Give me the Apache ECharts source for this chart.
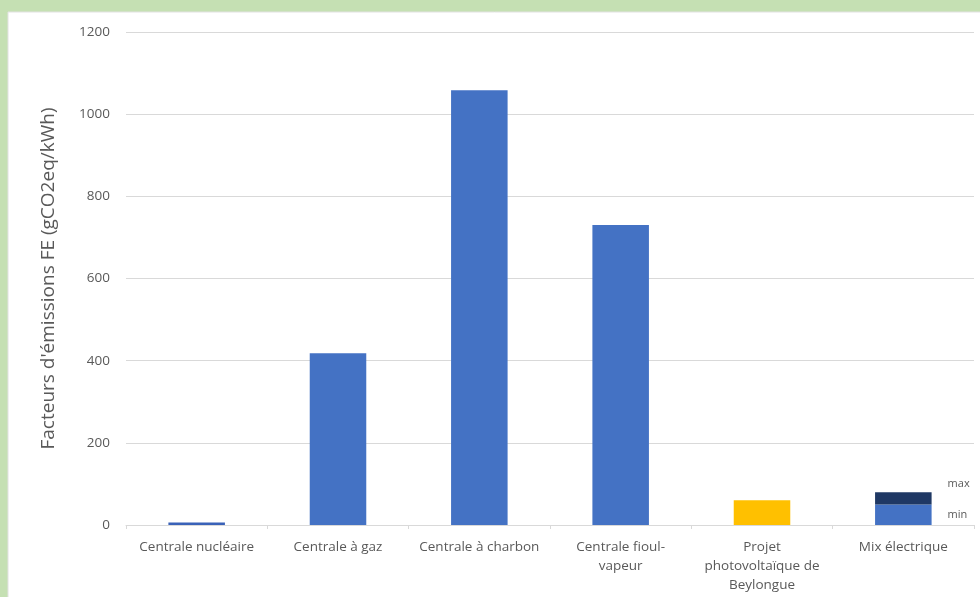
<!DOCTYPE html>
<html>
<head>
<meta charset="utf-8">
<script src="https://cdn.jsdelivr.net/npm/echarts@6/dist/echarts.min.js"></script>
<style>
  html, body { margin: 0; padding: 0; }
  #chart { width: 980px; height: 597px; }
</style>
</head>
<body>
<div id="chart"></div>
<script>
// categories and values (gCO2eq/kWh)
var categories = ['Centrale nucléaire', 'Centrale à gaz', 'Centrale à charbon', 'Centrale fioul-\nvapeur', 'Projet\nphotovoltaïque de\nBeylongue', 'Mix électrique'];
var minValues = [6, 418, 1058, 730, 60, 50];
var maxExtra = ['-', '-', '-', '-', '-', 30];
var yTicks = [0, 200, 400, 600, 800, 1000, 1200];

var barColors = ['#3a62b8', '#4472c4', '#4472c4', '#4472c4', '#ffc000', '#4472c4'];

const chart = echarts.init(document.getElementById('chart'), null, { renderer: 'canvas' });

var option = {
  backgroundColor: '#c5e0b3',
  animation: false,
  textStyle: { fontFamily: 'Open Sans' },
  graphic: [{
    type: 'rect',
    z: -10,
    shape: { x: 8, y: 12, width: 980, height: 600 },
    style: { fill: '#ffffff', stroke: '#e2e2e2', lineWidth: 1 }
  }],
  grid: { left: 126, right: 6, top: 32, bottom: 72 },
  xAxis: {
    type: 'category',
    data: categories,
    axisLine: { lineStyle: { color: '#d9d9d9' } },
    axisTick: { show: true, length: 4, lineStyle: { color: '#d9d9d9' } },
    axisLabel: { color: '#595959', fontSize: 13.5, lineHeight: 19, margin: 13, interval: 0 }
  },
  yAxis: {
    type: 'value',
    min: yTicks[0],
    max: yTicks[yTicks.length - 1],
    interval: 200,
    name: "Facteurs d'émissions FE (gCO2eq/kWh)",
    nameLocation: 'middle',
    nameGap: 68,
    nameTextStyle: { color: '#595959', fontSize: 19 },
    axisLine: { show: false },
    axisTick: { show: false },
    axisLabel: { color: '#595959', fontSize: 13.5, margin: 16, formatter: function (v) { return String(v); } },
    splitLine: { lineStyle: { color: '#d9d9d9' } }
  },
  series: [
    {
      name: 'min',
      type: 'bar',
      stack: 'fe',
      barWidth: '40%',
      data: minValues.map(function (v, i) {
        var item = { value: v, itemStyle: { color: barColors[i] } };
        if (i === minValues.length - 1) {
          item.label = { show: true, position: 'right', formatter: 'min', color: '#595959', fontSize: 11, distance: 16 };
        }
        return item;
      })
    },
    {
      name: 'max',
      type: 'bar',
      stack: 'fe',
      barWidth: '40%',
      itemStyle: { color: '#1f3864' },
      data: maxExtra.map(function (v, i) {
        if (v === '-') return v;
        return {
          value: v,
          label: { show: true, position: 'right', formatter: 'max', color: '#595959', fontSize: 11, distance: 16, offset: [0, -14] }
        };
      })
    }
  ]
};

chart.setOption(option);
</script>
</body>
</html>
